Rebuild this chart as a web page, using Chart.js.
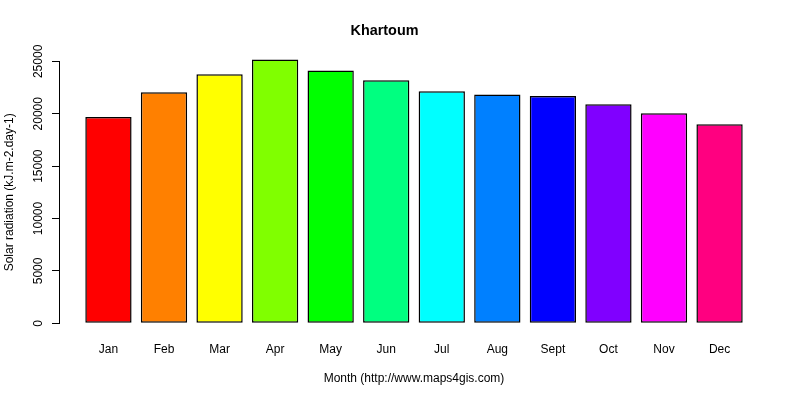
<!DOCTYPE html>
<html>
<head>
<meta charset="utf-8">
<script src="https://cdn.jsdelivr.net/npm/chart.js@4/dist/chart.umd.min.js"></script>
<style>
html,body{margin:0;padding:0;background:#fff;}
#wrap{width:800px;height:400px;}
</style>
</head>
<body>
<div id="wrap"><canvas id="c" width="800" height="400"></canvas></div>
<script>
const chartTitle = "Khartoum";
const xTitle = "Month (http://www.maps4gis.com)";
const yTitle = "Solar radiation (kJ.m-2.day-1)";
const months = ["Jan","Feb","Mar","Apr","May","Jun","Jul","Aug","Sept","Oct","Nov","Dec"];
const radiation = [19700, 22050, 23760, 25190, 24140, 23190, 22140, 21850, 21690, 20900, 20040, 18990];
const barColors = ["#FF0000","#FF8000","#FFFF00","#80FF00","#00FF00","#00FF80","#00FFFF","#0080FF","#0000FF","#8000FF","#FF00FF","#FF0080"];
const yTicks = [0, 5000, 10000, 15000, 20000, 25000];

// R barplot geometry: bar width 1, space 0.2
const centers = months.map((m, i) => 0.7 + i * 1.2);
const points = radiation.map((v, i) => ({x: centers[i], y: v}));
const xMin = 0.2 - 0.04 * 14.2, xMax = 14.4 + 0.04 * 14.2;

const FONT = "'Liberation Sans', Arial, sans-serif";
Chart.defaults.font.family = FONT;
Chart.defaults.color = '#000';

new Chart(document.getElementById('c'), {
  type: 'bar',
  data: {
    datasets: [{
      data: points,
      backgroundColor: barColors,
      borderColor: '#000',
      borderWidth: 1.5,
      borderSkipped: false,
      categoryPercentage: 1,
      barPercentage: 1 / 1.2,
      clip: false
    }]
  },
  options: {
    responsive: false,
    animation: false,
    devicePixelRatio: 1,
    layout: {padding: {left: 0, right: 31, top: 0, bottom: 0}},
    plugins: {
      legend: {display: false},
      tooltip: {enabled: false},
      title: {
        display: true,
        text: chartTitle,
        font: {family: FONT, size: 14.4, weight: 'bold', lineHeight: 1.2},
        color: '#000',
        padding: {top: 22.4, bottom: 21.7}
      }
    },
    scales: {
      x: {
        type: 'linear',
        min: xMin,
        max: xMax,
        offset: false,
        grid: {display: false, drawTicks: false, offset: false},
        border: {display: false},
        afterBuildTicks: s => { s.ticks = centers.map(v => ({value: v})); },
        afterFit: s => { s.height = 76.7; },
        ticks: {
          autoSkip: false,
          maxRotation: 0,
          minRotation: 0,
          padding: 19,
          font: {size: 12, lineHeight: 1.2},
          color: '#000',
          callback: (v, i) => months[i]
        },
        title: {
          display: true,
          text: xTitle,
          font: {size: 12, lineHeight: 1.2},
          color: '#000',
          padding: {top: 0, bottom: 14}
        }
      },
      y: {
        min: 0,
        max: 25000,
        afterBuildTicks: s => { s.ticks = yTicks.map(v => ({value: v})); },
        afterFit: s => { s.width = 59; },
        grid: {display: true, drawOnChartArea: false, drawTicks: true, tickLength: 7, color: '#000', lineWidth: 1},
        border: {display: true, color: '#000', width: 1},
        ticks: {
          minRotation: 90,
          maxRotation: 90,
          crossAlign: 'center',
          padding: -3,
          font: {size: 12, lineHeight: 1.2},
          color: '#000',
          callback: v => String(v)
        },
        title: {
          display: true,
          text: yTitle,
          font: {size: 12, lineHeight: 1.2},
          color: '#000',
          padding: {top: 2, bottom: 0}
        }
      }
    }
  }
});
</script>
</body>
</html>
